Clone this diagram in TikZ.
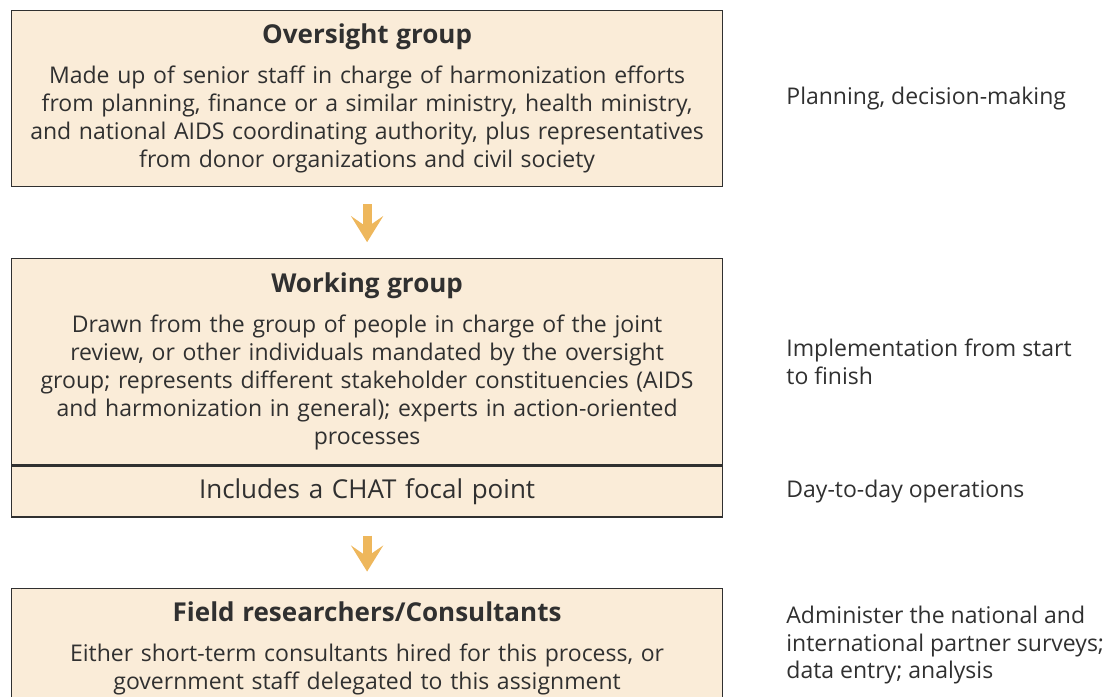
\documentclass[tikz,border=0pt]{standalone}
\usepackage{fontspec}
\setmainfont{Open Sans}
\usetikzlibrary{positioning,arrows.meta}
\definecolor{boxfill}{RGB}{250,236,216}
\definecolor{arrowcol}{RGB}{238,183,92}
\definecolor{ink}{RGB}{48,48,48}

\begin{document}
\begin{tikzpicture}[
	x=1pt, y=1pt,
	main/.style={rectangle, draw=ink, line width=1.2pt, fill=boxfill, text=ink, align=center, text width=705pt, minimum width=711pt, inner xsep=0pt, font=\fontsize{23}{28}\selectfont},
	big/.style={font=\fontsize{26}{28}\selectfont},
	side/.style={text=ink, align=left, inner sep=0pt, font=\fontsize{23}{27.5}\selectfont},
	flow/.style={arrowcol, line width=9pt, -{Stealth[length=26pt, width=32pt, inset=11pt]}}
	]

	\useasboundingbox (0,0) rectangle (1105,-696);

	\node (oversight) [main, anchor=north west, minimum height=176pt] at (11,-10) {{\fontsize{26}{28}\bfseries Oversight group}\\[12pt]
		Made up of senior staff in charge of harmonization efforts\\
		from planning, finance or a similar ministry, health ministry,\\
		and national AIDS coordinating authority, plus representatives\\
		from donor organizations and civil society};

	\node (working) [main, below=71pt of oversight, minimum height=206pt] {{\fontsize{26}{28}\bfseries Working group}\\[12pt]
		Drawn from the group of people in charge of the joint\\
		review, or other individuals mandated by the oversight\\
		group; represents different stakeholder constituencies (AIDS\\
		and harmonization in general); experts in action-oriented\\
		processes};
		\node (chat) [main, big, below=0pt of working, minimum height=51pt] {Includes a CHAT focal point};

	\node (field) [main, below=70pt of chat, minimum height=121pt] {{\fontsize{26}{28}\bfseries Field researchers/Consultants}\\[12pt]
		Either short-term consultants hired for this process, or\\
		government staff delegated to this assignment};

	\node (plan) [side, right=63pt of oversight] {Planning, decision-making};
	\node (impl) [side, right=63pt of working] {Implementation from start\\to finish};
	\node (daily) [side, right=63pt of chat] {Day-to-day operations};
	\node (admin) [side, right=63pt of field, yshift=3.5pt] {Administer the national and\\international partner surveys;\\data entry; analysis};

	\draw [flow, shorten <=17pt, shorten >=16pt] (oversight) -- (working);
	\draw [flow, shorten <=18pt, shorten >=16pt] (chat) -- (field);

\end{tikzpicture}
\end{document}
